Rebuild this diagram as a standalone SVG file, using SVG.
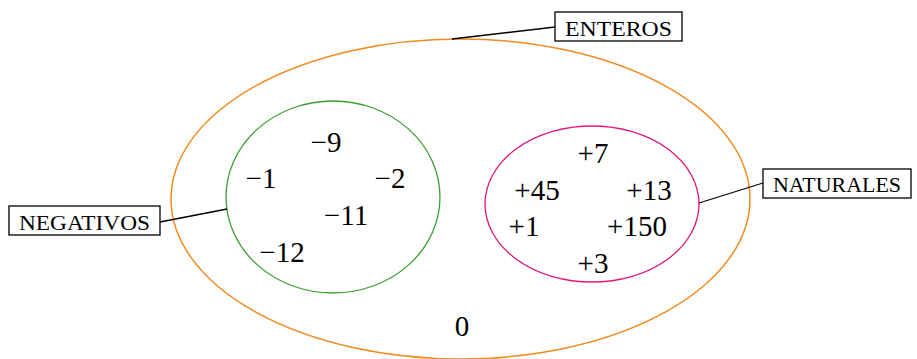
<svg xmlns="http://www.w3.org/2000/svg" width="917" height="359" viewBox="0 0 917 359">
<style>
.num{font-family:"Liberation Serif",serif;font-size:29px;fill:#000;text-anchor:middle}
.lbl{font-family:"Liberation Serif",serif;font-size:21px;fill:#000;text-anchor:middle}
.box{fill:#fff;stroke:#000;stroke-width:1.3}
.conn{stroke:#000;stroke-width:1.3;fill:none}
</style>
<rect width="917" height="359" fill="#fff"/>
<g id="enteros">
<ellipse cx="460.5" cy="199" rx="289.5" ry="160" fill="none" stroke="#F28A1E" stroke-width="1.5"/>
<text class="num" x="462" y="336">0</text>
</g>
<g id="negativos">
<ellipse cx="333" cy="197" rx="107" ry="96" fill="none" stroke="#3A9E30" stroke-width="1.3"/>
<text class="num" x="326" y="152">−9</text>
<text class="num" x="261" y="188">−1</text>
<text class="num" x="390" y="188">−2</text>
<text class="num" x="346" y="225">−11</text>
<text class="num" x="282" y="262">−12</text>
</g>
<g id="naturales">
<ellipse cx="592" cy="204" rx="107" ry="78" fill="none" stroke="#E2157E" stroke-width="1.3"/>
<text class="num" x="593" y="163">+7</text>
<text class="num" x="537" y="200">+45</text>
<text class="num" x="649" y="200">+13</text>
<text class="num" x="524" y="236">+1</text>
<text class="num" x="637" y="236">+150</text>
<text class="num" x="593" y="273">+3</text>
</g>
<g id="connectors">
<line class="conn" x1="452" y1="39" x2="555" y2="27"/>
<line class="conn" x1="160" y1="222" x2="227" y2="209"/>
<line class="conn" x1="763" y1="183" x2="699" y2="203"/>
</g>
<g id="label-enteros">
<rect class="box" x="555" y="12" width="127" height="29"/>
<text class="lbl" x="618.5" y="35.5" textLength="107" lengthAdjust="spacingAndGlyphs">ENTEROS</text>
</g>
<g id="label-negativos">
<rect class="box" x="9" y="206" width="151" height="29"/>
<text class="lbl" x="84.5" y="229.5" textLength="131" lengthAdjust="spacingAndGlyphs">NEGATIVOS</text>
</g>
<g id="label-naturales">
<rect class="box" x="763" y="169" width="148" height="29"/>
<text class="lbl" x="837" y="192" textLength="128" lengthAdjust="spacingAndGlyphs">NATURALES</text>
</g>
</svg>
